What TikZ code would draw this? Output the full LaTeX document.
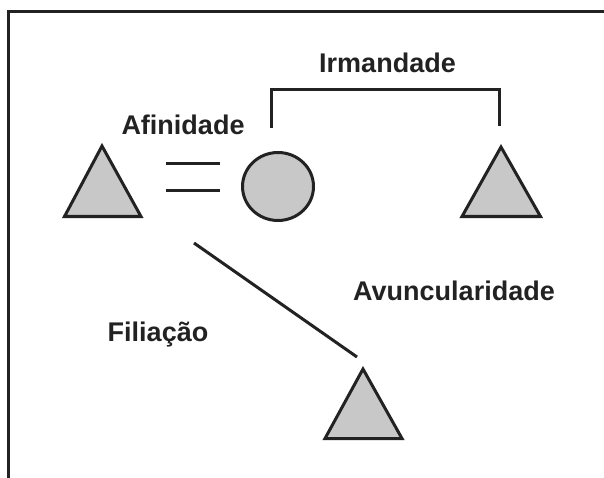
\documentclass[tikz,border=0pt]{standalone}
\usepackage{fontspec}
\setmainfont{Liberation Sans}
\definecolor{ink}{HTML}{222222}
\definecolor{shade}{HTML}{C8C8C8}
\begin{document}
\begin{tikzpicture}[x=1pt,y=-1pt,
  lbl/.style={font=\fontsize{27}{31}\selectfont\bfseries, text=ink, anchor=base, inner sep=0pt},
  frame/.style={draw=ink, line width=3pt},
  link/.style={draw=ink, line width=3pt},
  person/.style={draw=ink, fill=shade, line width=3pt, line join=miter}]
\useasboundingbox (0,0) rectangle (604,478);
\fill[white] (0,0) rectangle (604,478);
% frame (top and left edges)
\draw[frame] (8,478) -- (8,12) -- (606,12);
% persons
\coordinate (t1a) at (102,146);
\draw[person] (t1a) -- (141,216.5) -- (64.5,216.5) -- cycle;
\draw[person] (278,186.5) ellipse [x radius=35.5, y radius=34];
\coordinate (c) at (278,186.5);
\draw[person] (501,147) -- (540.5,216.5) -- (462,216.5) -- cycle;
\draw[person] (363,369) -- (402,438.5) -- (325,438.5) -- cycle;
% affinity
\coordinate (e1a) at (166,164); \coordinate (e1b) at (220,164);
\coordinate (e2a) at (166,191); \coordinate (e2b) at (220,191);
\draw[link] (e1a) -- (e1b);
\draw[link] (e2a) -- (e2b);
% siblinghood bracket
\coordinate (bl) at (271,128); \coordinate (br) at (499,126);
\draw[link] (bl) -- (271,89.5) -- (499,89.5) -- (br);
% filiation
\coordinate (fa) at (194,243); \coordinate (fb) at (357,357);
\draw[link] (fa) -- (fb);
% labels
\node[lbl] (irm) at (387.5,73) {Irmandade};
\node[lbl] (afi) at (183,135) {Afinidade};
\node[lbl] (avu) at (454,300) {Avuncularidade};
\node[lbl] (fil) at (158,341) {Filiação};
\end{tikzpicture}
\end{document}
